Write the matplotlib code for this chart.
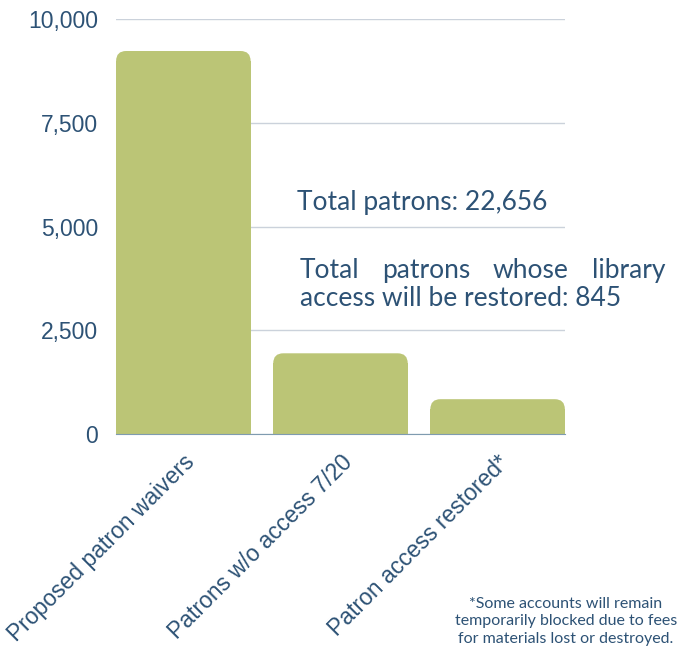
import matplotlib.pyplot as plt
from matplotlib.patches import FancyBboxPatch

categories = ['Proposed patron waivers', 'Patrons w/o access 7/20', 'Patron access restored*']
values = [9230, 1950, 845]
yticks = [0, 2500, 5000, 7500, 10000]
ytick_labels = ['0', '2,500', '5,000', '7,500', '10,000']

txt_col = '#2d5275'
bar_col = '#bbc576'

fig = plt.figure(figsize=(6.83, 6.56), dpi=100)
ax = fig.add_axes([0.170, 0.338, 0.657, 0.633])

bars = ax.bar(range(len(values)), values, width=0.856, color=bar_col, zorder=3)

# round the top corners: shorten plain bar, add a rounded box on top
rx, ry = 0.064, 240
for b in bars:
    x, w, h = b.get_x(), b.get_width(), b.get_height()
    b.set_height(h - ry)
    ax.add_patch(FancyBboxPatch((x, h - 2 * ry), w, 2 * ry,
                                boxstyle=f'round,pad=0,rounding_size={rx}',
                                mutation_aspect=ry / rx, fc=bar_col, ec='none',
                                zorder=3))

ax.set_xlim(-0.428, 2.428)
ax.set_ylim(0, 10000)
ax.set_yticks(yticks)
ax.set_yticklabels(ytick_labels, fontsize=16.5, color=txt_col, family='Liberation Sans')
ax.set_xticks(range(len(categories)))
ax.set_xticklabels(categories, rotation=45, ha='right', va='top', rotation_mode='anchor',
                   fontsize=16.5, color=txt_col, family='Liberation Sans')
ax.tick_params(length=0)
ax.tick_params(axis='y', pad=13)
ax.tick_params(axis='x', pad=12)
ax.grid(axis='y', color='#cbd2db', lw=1, zorder=0)
for s in ['top', 'right', 'left']:
    ax.spines[s].set_visible(False)
ax.spines['bottom'].set_color('#7f9bb0')
ax.spines['bottom'].set_zorder(4)

fs = 19
fig.text(297 / 683, 1 - 210 / 656, 'Total patrons: 22,656', fontsize=fs, color=txt_col,
         family='Lato', va='baseline')
line1 = ['Total', 'patrons', 'whose', 'library']
fig.canvas.draw()
r = fig.canvas.get_renderer()
x0, x1 = 300 / 683, 665 / 683
widths = []
for wd in line1:
    t = fig.text(0, 0, wd, fontsize=fs, family='Lato')
    widths.append(t.get_window_extent(r).width / 683)
    t.remove()
gap = (x1 - x0 - sum(widths)) / (len(line1) - 1)
xp = x0
for wd, wdt in zip(line1, widths):
    fig.text(xp, 1 - 278 / 656, wd, fontsize=fs, color=txt_col, family='Lato', va='baseline')
    xp += wdt + gap
fig.text(x0, 1 - 306 / 656, 'access will be restored: 845', fontsize=fs, color=txt_col,
         family='Lato', va='baseline')

fig.text(566 / 683, 1 - 597 / 656,
         '*Some accounts will remain\ntemporarily blocked due to fees\nfor materials lost or destroyed.',
         ha='center', va='top', fontsize=11.5, color=txt_col, family='Lato', linespacing=1.3)

plt.savefig('out.png', dpi=100)
